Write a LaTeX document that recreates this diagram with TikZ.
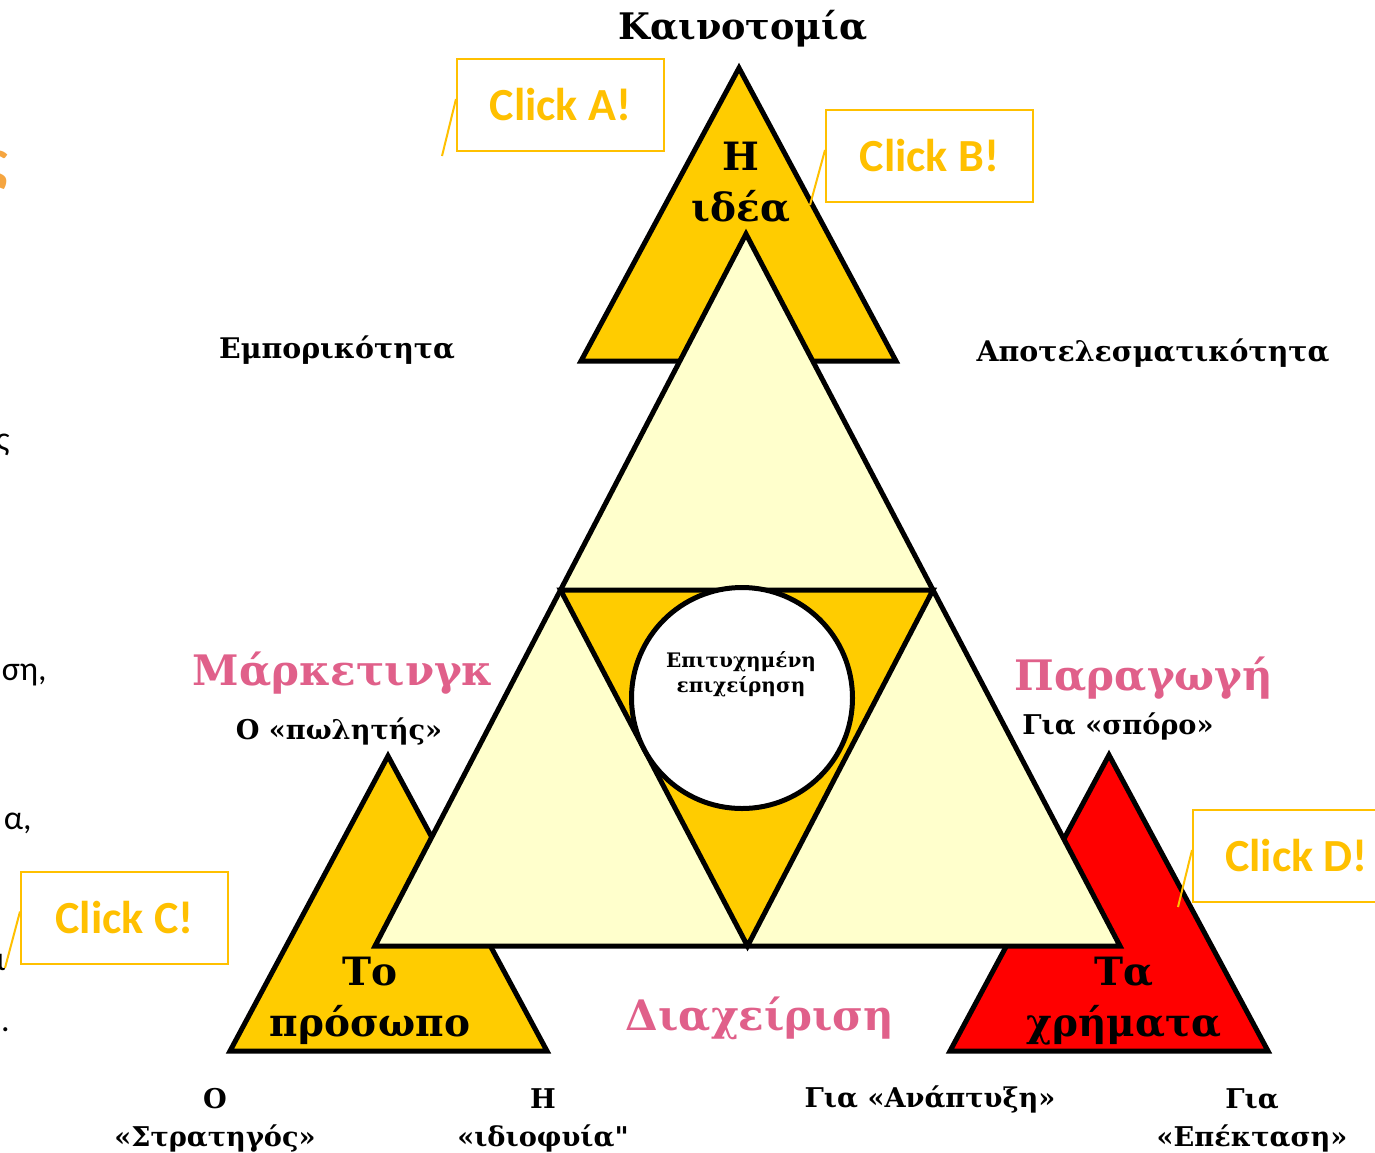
\documentclass[tikz,border=0pt]{standalone}
\usepackage{fontspec}
\setmainfont{DejaVu Serif}[Ligatures=TeXOff]
\newfontfamily\clickfont{Carlito}
\usetikzlibrary{calc}
\definecolor{gold}{HTML}{FFCC00}
\definecolor{cream}{HTML}{FFFFCC}
\definecolor{clickgold}{HTML}{FFC000}
\definecolor{rose}{HTML}{E0608A}
\definecolor{headorange}{HTML}{F5A540}
\tikzset{
	tri/.style={draw=black,line width=2.5pt,line join=miter},
	clickbox/.style={draw=clickgold,line width=1pt,fill=white,minimum width=103.5pt,minimum height=46pt,inner sep=0pt,text=clickgold,font=\clickfont\bfseries\fontsize{23}{26}\selectfont},
	pin/.style={draw=clickgold,line width=1pt},
	title/.style={inner sep=0pt,font=\bfseries\fontsize{18.3}{22}\selectfont},
	inside/.style={inner sep=0pt,align=center,font=\bfseries\fontsize{19.5}{25.5}\selectfont},
	rosy/.style={inner sep=0pt,text=rose,font=\bfseries\fontsize{21}{25}\selectfont},
	small/.style={inner sep=0pt,align=center,font=\bfseries\fontsize{13.6}{19}\selectfont},
	side/.style={inner sep=0pt,font=\bfseries\fontsize{14.2}{17}\selectfont},
	cut/.style={inner sep=0pt,anchor=east,font=\clickfont\fontsize{17}{20}\selectfont}
}
\begin{document}
\begin{tikzpicture}[x=0.5pt,y=-0.5pt]
	\useasboundingbox (0,0) rectangle (1375,1152);
	% corners
	\coordinate (topA) at (739,68);   \coordinate (topB) at (581,361);  \coordinate (topC) at (896,361);
	\coordinate (leftA) at (388,756); \coordinate (leftB) at (230,1051); \coordinate (leftC) at (547,1051);
	\coordinate (rightA) at (1109,755); \coordinate (rightB) at (950,1051); \coordinate (rightC) at (1268,1051);
	\coordinate (bigA) at (746,234);  \coordinate (bigB) at (375,946);  \coordinate (bigC) at (1120,946);
	\coordinate (midAB) at ($(bigA)!0.5!(bigB)$);
	\coordinate (midAC) at ($(bigA)!0.5!(bigC)$);
	\coordinate (midBC) at ($(bigB)!0.5!(bigC)$);
	% triangles
	\draw[tri,fill=gold] (topA)--(topB)--(topC)--cycle;
	\draw[tri,fill=gold] (leftA)--(leftB)--(leftC)--cycle;
	\draw[tri,fill=red] (rightA)--(rightB)--(rightC)--cycle;
	\draw[tri,fill=cream] (bigA)--(bigB)--(bigC)--cycle;
	\draw[tri,fill=gold] (midAB)--(midAC)--(midBC)--cycle;
	\node[circle,draw=black,line width=2.5pt,fill=white,minimum size=110.5pt] (hub) at (742,698) {};
	\node[inner sep=0pt,align=center,font=\bfseries\fontsize{10}{12.5}\selectfont] (hubtext) at (741,674) {Επιτυχημένη\\επιχείρηση};
	% texts
	\node[title] (innovation) at (743,29) {Καινοτομία};
	\node[inside] (idea) at (741,183) {Η\\ιδέα};
	\node[inside] (person) at (370,1001) {Το\\πρόσωπο};
	\node[inside] (money) at (1124,1001) {Τα\\χρήματα};
	\node[side] (commerce) at (337,350) {Εμπορικότητα};
	\node[side] (efficiency) at (1153,353) {Αποτελεσματικότητα};
	\node[rosy] (marketing) at (343,673) {Μάρκετινγκ};
	\node[rosy] (production) at (1144,678) {Παραγωγή};
	\node[rosy] (management) at (760,1018) {Διαχείριση};
	\node[small] (seller) at (339,731) {Ο «πωλητής»};
	\node[small] (seed) at (1118,726) {Για «σπόρο»};
	\node[small] (strategist) at (215,1120) {Ο\\«Στρατηγός»};
	\node[small] (genius) at (543,1120) {Η\\«ιδιοφυία"};
	\node[small] (growth) at (930,1099) {Για «Ανάπτυξη»};
	\node[small] (expansion) at (1252,1120) {Για\\«Επέκταση»};
	% cut off text at the left edge
	\node[cut,text=headorange,font=\clickfont\bfseries\fontsize{30}{34}\selectfont] (cutA) at (8,170) {ς};
	\node[cut] (cutB) at (10,445) {ς};
	\node[cut] (cutC) at (47,675) {ση,};
	\node[cut] (cutD) at (32,823) {α,};
	\node[cut] (cutE) at (6,962) {ι};
	\node[cut] (cutF) at (10,1030) {.};
	% click boxes
	\coordinate (pinA) at (442,156);
	\coordinate (pinB) at (810,205);
	\coordinate (pinC) at (5,968);
	\coordinate (pinD) at (1178,907);
	\node[clickbox] (clickA) at (560.5,105) {Click A!};
	\node[clickbox] (clickB) at (929.5,156) {Click B!};
	\node[clickbox] (clickC) at (124.5,917.5) {Click C!};
	\node[clickbox] (clickD) at (1296.5,856) {Click D!};
	\draw[pin] (pinA)--([yshift=3pt]clickA.west);
	\draw[pin] (pinB)--([yshift=3pt]clickB.west);
	\draw[pin] (pinC)--([yshift=3pt]clickC.west);
	\draw[pin] (pinD)--([yshift=3pt]clickD.west);
\end{tikzpicture}
\end{document}
